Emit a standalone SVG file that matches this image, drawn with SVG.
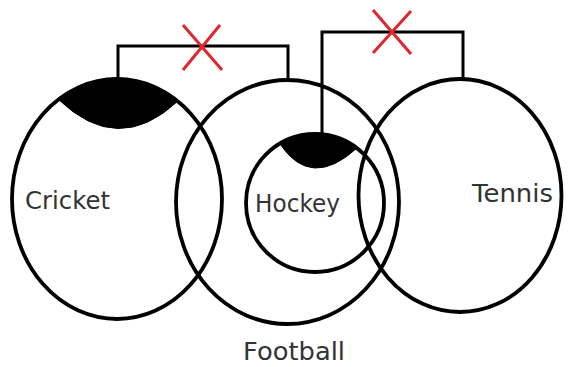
<svg xmlns="http://www.w3.org/2000/svg" width="568" height="367" viewBox="0 0 568 367">
<style>
.c{fill:none;stroke:#000;stroke-width:3.8}
.cap{fill:#000;stroke:#000;stroke-width:1}
.w{fill:none;stroke:#000;stroke-width:3}
.x{fill:none;stroke:#e0262e;stroke-width:3}
.t{font-family:"DejaVu Sans",Verdana,sans-serif;font-size:25px;fill:#333}
</style>
<rect width="568" height="367" fill="#fff"/>
<g id="cricket">
<ellipse class="c" cx="117" cy="199" rx="105" ry="120"/>
<path class="cap" d="M58,99 A105,120 0 0 1 178,101 Q118,157 58,99 Z"/>
<text class="t" x="25" y="209" textLength="85" lengthAdjust="spacingAndGlyphs">Cricket</text>
</g>
<g id="football">
<ellipse class="c" cx="287.5" cy="202" rx="111.5" ry="122"/>
<text class="t" x="243" y="360" textLength="102" lengthAdjust="spacingAndGlyphs">Football</text>
</g>
<g id="hockey">
<circle class="c" cx="315" cy="203" r="69"/>
<path class="cap" d="M280,144 A69,69 0 0 1 357,148 Q311,190 280,144 Z"/>
<text class="t" x="255" y="212" textLength="85" lengthAdjust="spacingAndGlyphs">Hockey</text>
</g>
<g id="tennis">
<ellipse class="c" cx="460" cy="195.5" rx="101.5" ry="116.5"/>
<text class="t" x="472" y="202" textLength="81" lengthAdjust="spacingAndGlyphs">Tennis</text>
</g>
<g id="connectors">
<path class="w" d="M118,80 V46 H288 V81"/>
<path class="w" d="M322,134 V32 H463 V80"/>
<path class="x" d="M183,25 L222,70 M220,25 L183,70"/>
<path class="x" d="M373,10 L411,54 M411,11 L373,53"/>
</g>
</svg>
